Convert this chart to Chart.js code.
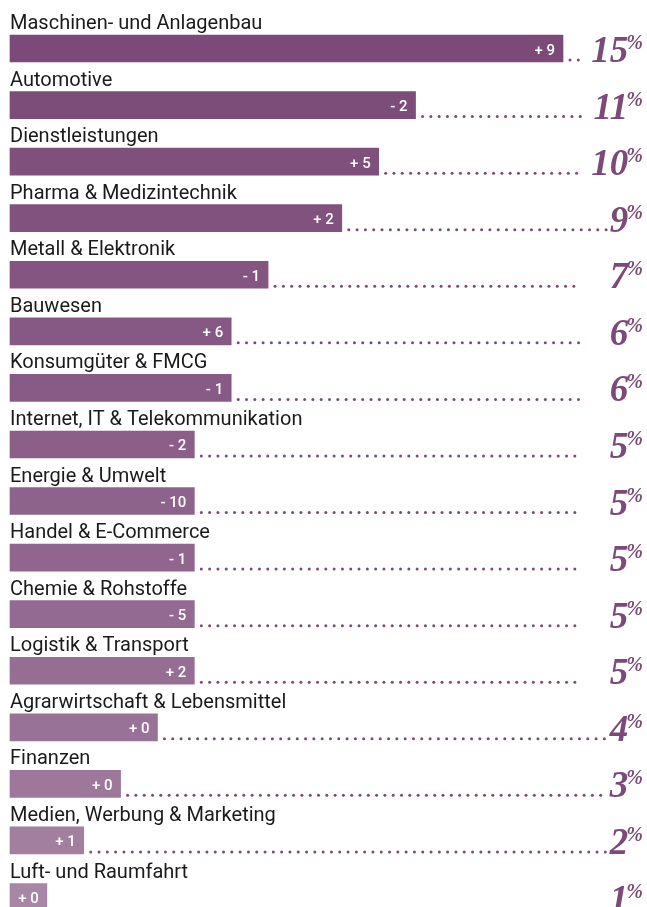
<!DOCTYPE html>
<html>
<head>
<meta charset="utf-8">
<script src="https://cdn.jsdelivr.net/npm/chart.js@4.4.0/dist/chart.umd.min.js"></script>
<style>
  html, body { margin: 0; padding: 0; background: #fff; }
  #wrap { width: 647px; height: 907px; position: relative; }
</style>
</head>
<body>
<div id="wrap"><canvas id="chart"></canvas></div>
<script>
// Branchen und ihr Anteil in Prozent
const branchen = [
    "Maschinen- und Anlagenbau",
    "Automotive",
    "Dienstleistungen",
    "Pharma & Medizintechnik",
    "Metall & Elektronik",
    "Bauwesen",
    "Konsumgüter & FMCG",
    "Internet, IT & Telekommunikation",
    "Energie & Umwelt",
    "Handel & E-Commerce",
    "Chemie & Rohstoffe",
    "Logistik & Transport",
    "Agrarwirtschaft & Lebensmittel",
    "Finanzen",
    "Medien, Werbung & Marketing",
    "Luft- und Raumfahrt"
];
const anteil = [15, 11, 10, 9, 7, 6, 6, 5, 5, 5, 5, 5, 4, 3, 2, 1];
const veraenderung = [9, -2, 5, 2, -1, 6, -1, -2, -10, -1, -5, 2, 0, 0, 1, 0];

const barColors = [
    "#7b4a78", "#7d4d7a", "#7f507c", "#81527e", "#835580", "#865884", "#885b86", "#8b5f88",
    "#8d628b", "#90668e", "#936a91", "#966e94", "#997397", "#9d789b", "#a27f9f", "#a886a5"
];
const accent = "#7b4a78";

// rows where the dotted leader runs all the way up to the percent label
const leaderToLabel = [false, false, false, true, false, false, false, false, false, false, false, false, true, true, true, false];

function fmtChange(v) {
    return (v < 0 ? "- " + Math.abs(v) : "+ " + v);
}

const labelsPlugin = {
    id: 'labelsPlugin',
    afterDatasetsDraw(chart) {
        const ctx = chart.ctx;
        const meta = chart.getDatasetMeta(0);
        const right = chart.width - 4;
        ctx.save();
        meta.data.forEach((bar, i) => {
            const top = bar.y - bar.height / 2;
            const bottom = bar.y + bar.height / 2;

            // category name above bar
            ctx.fillStyle = "#1a1a1a";
            ctx.font = "20px Roboto";
            ctx.textAlign = "left";
            ctx.textBaseline = "alphabetic";
            ctx.fillText(branchen[i], 10, top - 6);

            // change inside bar
            ctx.fillStyle = "#ffffff";
            ctx.font = "500 15px Roboto";
            ctx.textAlign = "right";
            ctx.fillText(fmtChange(veraenderung[i]), bar.x - 8, bar.y + 6);

            // percent label at right
            ctx.fillStyle = accent;
            ctx.font = "italic bold 20px 'Liberation Serif'";
            const pctW = ctx.measureText("%").width;
            ctx.textAlign = "right";
            ctx.fillText("%", right, top + 14);
            ctx.font = "italic bold 37px 'Liberation Serif'";
            const numText = String(anteil[i]);
            const numW = ctx.measureText(numText).width;
            ctx.fillText(numText, right - pctW + 2, bottom);
            const labelLeft = right - pctW + 2 - numW;

            // dotted leader
            if (i < meta.data.length - 1) {
                const start = bar.x + 7;
                const end = leaderToLabel[i] ? labelLeft - 3 : Math.min(582, labelLeft - 6);
                ctx.fillStyle = accent;
                for (let x = start; x <= end; x += 8.3) {
                    ctx.beginPath();
                    ctx.arc(x, bottom - 2, 1.5, 0, Math.PI * 2);
                    ctx.fill();
                }
            }
        });
        ctx.restore();
    }
};

new Chart(document.getElementById('chart'), {
    type: 'bar',
    data: {
        labels: branchen,
        datasets: [{
            data: anteil,
            backgroundColor: barColors,
            barThickness: 27,
            clip: false
        }]
    },
    options: {
        indexAxis: 'y',
        responsive: true,
        maintainAspectRatio: false,
        animation: false,
        layout: { padding: { left: 10, right: 84, top: 48.5, bottom: 10 } },
        scales: {
            x: { display: false, min: 0, max: 15 },
            y: { display: false, offset: false, grid: { display: false } }
        },
        plugins: {
            legend: { display: false },
            tooltip: { enabled: false }
        }
    },
    plugins: [labelsPlugin]
});
</script>
</body>
</html>
